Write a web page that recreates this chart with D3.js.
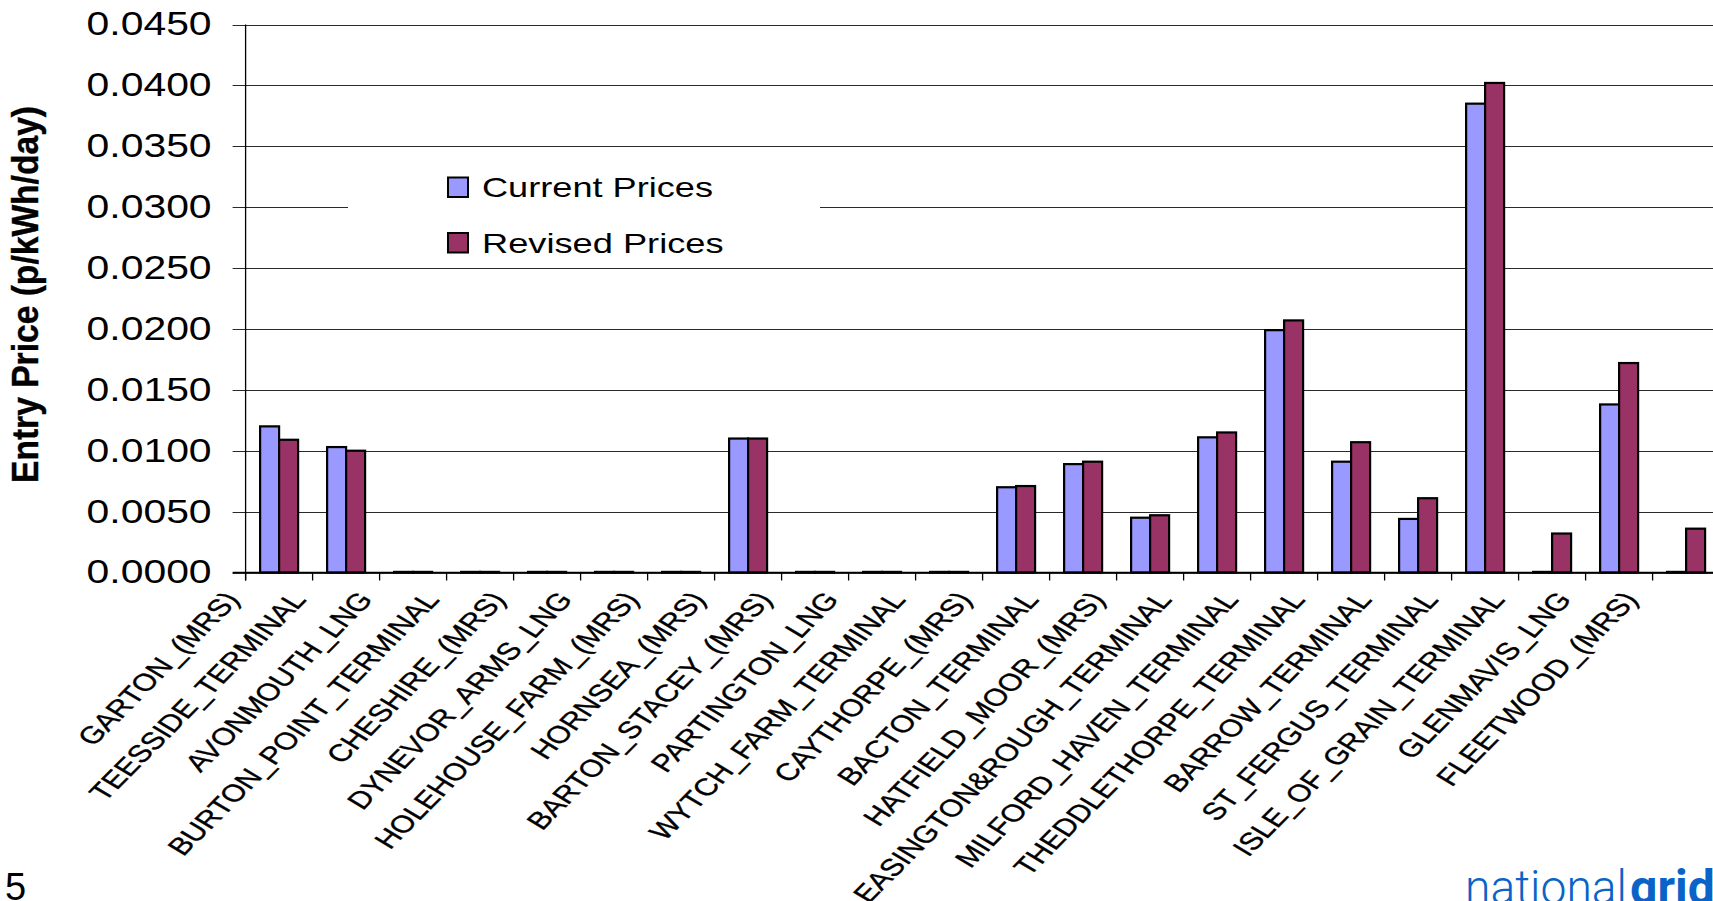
<!DOCTYPE html>
<html>
<head>
<meta charset="utf-8">
<script src="https://cdn.jsdelivr.net/npm/d3@7"></script>
<style>
  body { margin: 0; background: #fff; }
  svg { display: block; font-family: "Liberation Sans", Arial, sans-serif; }
</style>
</head>
<body>
<svg id="chart" width="1713" height="901"></svg>
<script>
// entry points, left to right
var categories = [
  "GARTON_(MRS)", "TEESSIDE_TERMINAL", "AVONMOUTH_LNG", "BURTON_POINT_TERMINAL",
  "CHESHIRE_(MRS)", "DYNEVOR_ARMS_LNG", "HOLEHOUSE_FARM_(MRS)", "HORNSEA_(MRS)",
  "BARTON_STACEY_(MRS)", "PARTINGTON_LNG", "WYTCH_FARM_TERMINAL", "CAYTHORPE_(MRS)",
  "BACTON_TERMINAL", "HATFIELD_MOOR_(MRS)", "EASINGTON&ROUGH_TERMINAL", "MILFORD_HAVEN_TERMINAL",
  "THEDDLETHORPE_TERMINAL", "BARROW_TERMINAL", "ST_FERGUS_TERMINAL", "ISLE_OF_GRAIN_TERMINAL",
  "GLENMAVIS_LNG", "FLEETWOOD_(MRS)"
];
var currentPrices = [0.0120, 0.0103, 0, 0, 0, 0, 0, 0.0110, 0, 0, 0, 0.0070,
                     0.0089, 0.0045, 0.0111, 0.0199, 0.0091, 0.0044, 0.0385, 0, 0.0138, 0];
var revisedPrices = [0.0109, 0.0100, 0, 0, 0, 0, 0, 0.0110, 0, 0, 0, 0.0071,
                     0.0091, 0.0047, 0.0115, 0.0207, 0.0107, 0.0061, 0.0402, 0.0032, 0.0172, 0.0036];
var seriesNames = ["Current Prices", "Revised Prices"];
var seriesColors = ["#9999FF", "#993366"];
var yTicks = [0, 0.005, 0.010, 0.015, 0.020, 0.025, 0.030, 0.035, 0.040, 0.045];

var svg = d3.select("#chart");
var plotLeft = 245.6, plotTop = 24.5, plotBottom = 572.5, step = 67;
var plotRight = plotLeft + step * categories.length;

var y = d3.scaleLinear().domain([0, 0.045]).range([plotBottom, plotTop]);
var xBand = d3.scaleBand().domain(categories).range([plotLeft, plotRight]).padding(0);
var x0 = d3.scaleBand().domain(categories).range([plotLeft, plotRight])
  .paddingInner(0.433).paddingOuter(0.2165);
var x1 = d3.scaleBand().domain(seriesNames).range([0, x0.bandwidth()]);
var color = d3.scaleOrdinal().domain(seriesNames).range(seriesColors);

// gridlines (incl. the small outside tick left of the axis)
svg.append("g").selectAll("line").data(yTicks).enter().append("line")
  .attr("x1", plotLeft - 13).attr("x2", 1713)
  .attr("y1", function(d){ return Math.round(y(d)) + 0.5; })
  .attr("y2", function(d){ return Math.round(y(d)) + 0.5; })
  .attr("stroke", "#2a2a2a").attr("stroke-width", 1.2);

// y tick labels
var yAxis = d3.axisLeft(y).tickValues(yTicks).tickSize(0).tickPadding(34)
  .tickFormat(d3.format(".4f"));
var gy = svg.append("g").attr("transform", "translate(" + plotLeft + ",0)").call(yAxis);
gy.select(".domain").remove();
gy.selectAll("text")
  .attr("font-family", "Liberation Sans, Arial, sans-serif")
  .attr("font-size", 32.5).attr("fill", "#000")
  .attr("textLength", 125).attr("lengthAdjust", "spacingAndGlyphs");

// legend box (white, hides gridline)
svg.append("rect").attr("x", 348).attr("y", 152).attr("width", 472).attr("height", 111).attr("fill", "#fff");

// bars
var rows = categories.map(function(c, i){ return { cat: c, vals: [currentPrices[i], revisedPrices[i]] }; });
var groups = svg.append("g").selectAll("g").data(rows).enter().append("g")
  .attr("transform", function(d){ return "translate(" + x0(d.cat) + ",0)"; });
groups.selectAll("rect").data(function(d){
    return d.vals.map(function(v, j){ return { name: seriesNames[j], value: v }; });
  }).enter().append("rect")
  .attr("x", function(d){ return x1(d.name); })
  .attr("width", x1.bandwidth())
  .attr("y", function(d){ return Math.min(y(d.value), plotBottom - 0.6); })
  .attr("height", function(d){ return Math.max(plotBottom - y(d.value), 0.6); })
  .attr("fill", function(d){ return color(d.name); })
  .attr("stroke", "#000").attr("stroke-width", 2.2);

// axes lines
svg.append("line").attr("x1", plotLeft).attr("x2", plotLeft).attr("y1", plotTop).attr("y2", plotBottom + 8)
  .attr("stroke", "#000").attr("stroke-width", 1.3);
svg.append("line").attr("x1", plotLeft - 13).attr("x2", 1713).attr("y1", plotBottom).attr("y2", plotBottom)
  .attr("stroke", "#000").attr("stroke-width", 1.5);
svg.append("g").selectAll("line").data(categories).enter().append("line")
  .attr("x1", function(d){ return xBand(d); }).attr("x2", function(d){ return xBand(d); })
  .attr("y1", plotBottom).attr("y2", plotBottom + 8)
  .attr("stroke", "#000").attr("stroke-width", 1.3);

// category labels, slanted
svg.append("clipPath").attr("id", "labclip").append("rect")
  .attr("x", 0).attr("y", 587).attr("width", 1713).attr("height", 320);
var kx = 1.3, ang = Math.atan(kx) * 180 / Math.PI;
svg.append("g").attr("clip-path", "url(#labclip)")
  .selectAll("text").data(categories).enter().append("text")
  .attr("transform", function(d, i){
    return "translate(" + (xBand(d) - 5 - i * 0.4) + ",600) scale(" + kx + ",1) rotate(" + (-ang) + ")";
  })
  .attr("text-anchor", "end").attr("font-size", 24.2).attr("fill", "#000")
  .attr("stroke", "#000").attr("stroke-width", 0.35)
  .text(function(d){ return d; });

// legend
var leg = svg.append("g").selectAll("g").data(seriesNames).enter().append("g")
  .attr("transform", function(d, i){ return "translate(0," + (i * 55.5) + ")"; });
leg.append("rect").attr("x", 448).attr("y", 177.5).attr("width", 20).attr("height", 19.5)
  .attr("fill", function(d){ return color(d); }).attr("stroke", "#000").attr("stroke-width", 2);
leg.append("text").attr("x", 482).attr("y", 197.3).attr("font-size", 27.4).attr("fill", "#000")
  .attr("textLength", function(d, i){ return i === 0 ? 231 : 241.6; })
  .attr("lengthAdjust", "spacingAndGlyphs")
  .text(function(d){ return d; });

// y axis title
svg.append("text").attr("transform", "translate(38,294.5) rotate(-90)")
  .attr("text-anchor", "middle").attr("font-size", 36).attr("font-weight", "bold")
  .attr("stroke", "#000").attr("stroke-width", 0.4)
  .attr("textLength", 377).attr("lengthAdjust", "spacingAndGlyphs")
  .text("Entry Price (p/kWh/day)");

// page number and logo
svg.append("text").attr("x", 5).attr("y", 900).attr("font-size", 38).text("5");
svg.append("text").attr("x", 1465).attr("y", 904).attr("font-family", "Roboto, sans-serif")
  .attr("font-weight", 300).attr("font-size", 48).attr("fill", "#0a64c8")
  .attr("textLength", 162).attr("lengthAdjust", "spacingAndGlyphs").text("national");
svg.append("text").attr("x", 1630).attr("y", 904).attr("font-family", "Roboto, sans-serif")
  .attr("font-weight", 700).attr("font-size", 48).attr("fill", "#0a64c8").text("grid");
</script>
</body>
</html>
